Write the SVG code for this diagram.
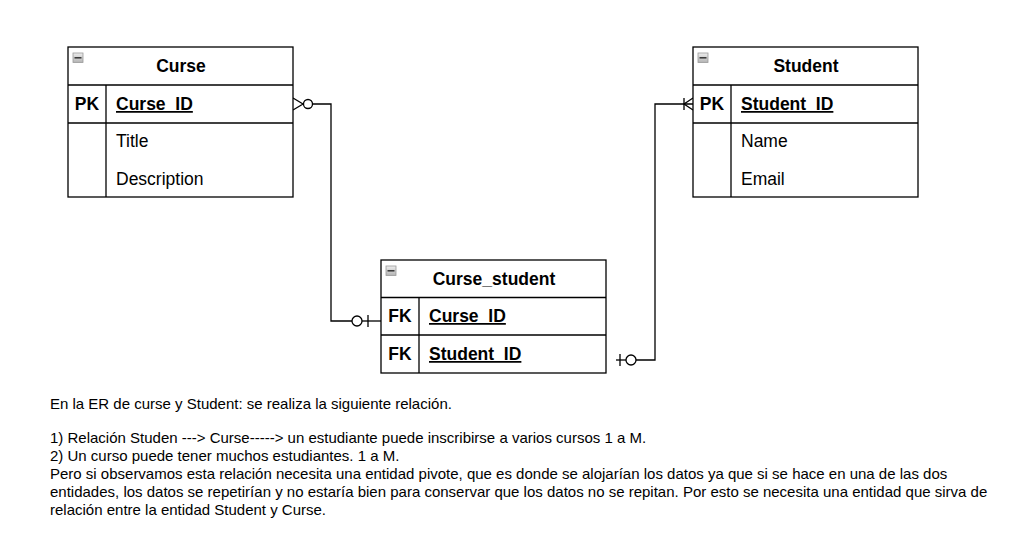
<svg xmlns="http://www.w3.org/2000/svg" width="1018" height="536" viewBox="0 0 1018 536">
<style>
.box{fill:#fff;stroke:#000;stroke-width:1.3}
.ln{stroke:#000;stroke-width:1.3;fill:none}
.sep{stroke:#000;stroke-width:1.6;fill:none}
.hd{font-family:"Liberation Sans",Arial,sans-serif;font-size:17.5px;font-weight:bold;fill:#000}
.key{font-family:"Liberation Sans",Arial,sans-serif;font-size:17.5px;font-weight:bold;fill:#000}
.kf{font-family:"Liberation Sans",Arial,sans-serif;font-size:17.5px;font-weight:bold;fill:#000;text-decoration:underline}
.at{font-family:"Liberation Sans",Arial,sans-serif;font-size:17.5px;fill:#000}
.para{font-family:"Liberation Sans",Arial,sans-serif;font-size:15px;fill:#000}
.con{stroke:#000;stroke-width:1.3;fill:none}
.cc{stroke:#000;stroke-width:1.3;fill:#fff}
</style>
<defs>
<linearGradient id="ig" x1="0" y1="0" x2="0" y2="1">
<stop offset="0" stop-color="#eeeeee"/>
<stop offset="1" stop-color="#b3b3b3"/>
</linearGradient>
<g id="icon">
<rect x="0" y="0" width="10" height="9.5" fill="url(#ig)" stroke="#999" stroke-width="0.8"/>
<line x1="1.5" y1="4.8" x2="8.5" y2="4.8" stroke="#333" stroke-width="1.5"/>
</g>
</defs>

<g id="connectors">
<polyline class="con" points="313,104 331,104 331,321 352,321"/>
<path class="con" d="M293,98 L303,104 L293,110"/>
<circle class="cc" cx="308" cy="104" r="4.5"/>
<line class="con" x1="362" y1="321" x2="381" y2="321"/>
<circle class="cc" cx="357" cy="321" r="5"/>
<line class="con" x1="368" y1="315" x2="368" y2="327"/>

<polyline class="con" points="693,104 655,104 655,360 636,360"/>
<path class="con" d="M693,98 L684,104 L693,110"/>
<line class="con" x1="684" y1="98" x2="684" y2="110"/>
<circle class="cc" cx="631" cy="360" r="5"/>
<line class="con" x1="626" y1="360" x2="616" y2="360"/>
<line class="con" x1="620" y1="354" x2="620" y2="366"/>
</g>

<g id="curse">
<rect class="box" x="68" y="47" width="225" height="150"/>
<line class="ln" x1="68" y1="85" x2="293" y2="85"/>
<line class="sep" x1="68" y1="123" x2="293" y2="123"/>
<line class="ln" x1="106" y1="85" x2="106" y2="197"/>
<use href="#icon" x="73" y="53"/>
<text class="hd" x="181" y="72" text-anchor="middle">Curse</text>
<text class="key" x="87" y="110" text-anchor="middle">PK</text>
<text class="kf" x="116" y="110">Curse_ID</text>
<text class="at" x="116" y="147">Title</text>
<text class="at" x="116" y="185">Description</text>
</g>

<g id="student">
<rect class="box" x="693" y="47" width="225" height="150"/>
<line class="ln" x1="693" y1="85" x2="918" y2="85"/>
<line class="sep" x1="693" y1="123" x2="918" y2="123"/>
<line class="ln" x1="731" y1="85" x2="731" y2="197"/>
<use href="#icon" x="698" y="53"/>
<text class="hd" x="806" y="72" text-anchor="middle">Student</text>
<text class="key" x="712" y="110" text-anchor="middle">PK</text>
<text class="kf" x="741" y="110">Student_ID</text>
<text class="at" x="741" y="147">Name</text>
<text class="at" x="741" y="185">Email</text>
</g>

<g id="curse_student">
<rect class="box" x="381" y="260" width="225" height="113"/>
<line class="ln" x1="381" y1="297.5" x2="606" y2="297.5"/>
<line class="ln" x1="381" y1="335" x2="606" y2="335"/>
<line class="ln" x1="419" y1="297.5" x2="419" y2="373"/>
<use href="#icon" x="386" y="266"/>
<text class="hd" x="494" y="285" text-anchor="middle">Curse_student</text>
<text class="key" x="400" y="322" text-anchor="middle">FK</text>
<text class="kf" x="429" y="322">Curse_ID</text>
<text class="key" x="400" y="360" text-anchor="middle">FK</text>
<text class="kf" x="429" y="360">Student_ID</text>
</g>

<g id="note">
<text class="para" x="50" y="409">En la ER de curse y Student: se realiza la siguiente relación.</text>
<text class="para" x="50" y="443">1) Relación Studen ---&gt; Curse-----&gt; un estudiante puede inscribirse a varios cursos 1 a M.</text>
<text class="para" x="50" y="461">2) Un curso puede tener muchos estudiantes. 1 a M.</text>
<text class="para" x="50" y="479">Pero si observamos esta relación necesita una entidad pivote, que es donde se alojarían los datos ya que si se hace en una de las dos</text>
<text class="para" x="50" y="497">entidades, los datos se repetirían y no estaría bien para conservar que los datos no se repitan. Por esto se necesita una entidad que sirva de</text>
<text class="para" x="50" y="515">relación entre la entidad Student y Curse.</text>
</g>
</svg>
